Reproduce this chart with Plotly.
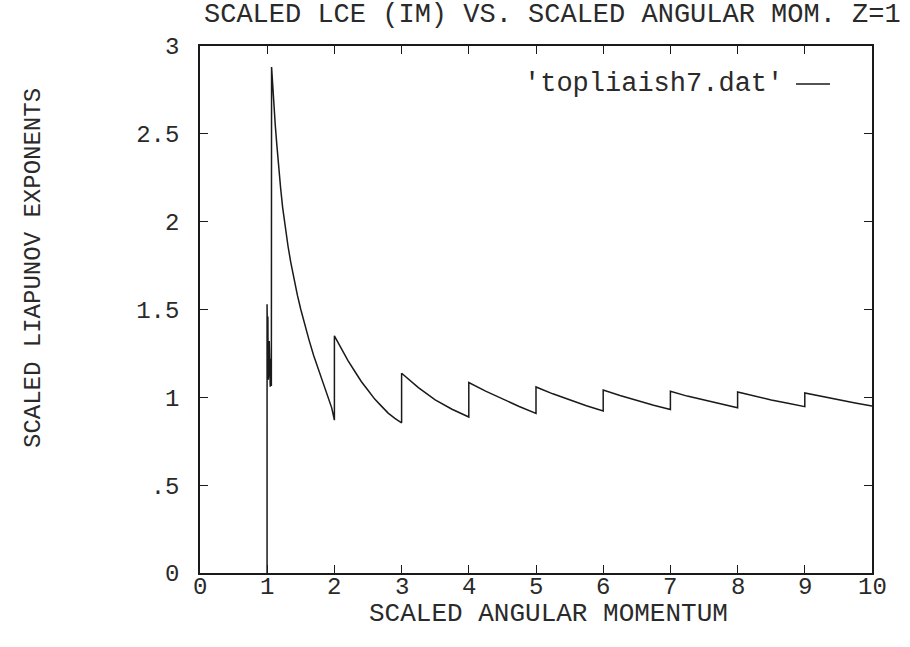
import plotly.graph_objects as go

# ---- data ----
lam_x = [0.998, 0.998, 1.005, 1.01, 1.015, 1.02, 1.025, 1.03, 1.035, 1.04, 1.045, 1.05, 1.055, 1.06, 1.062,
         1.065, 1.08, 1.10, 1.12, 1.145, 1.17, 1.20, 1.23, 1.27, 1.31, 1.35, 1.40, 1.45, 1.50, 1.56,
         1.62, 1.69, 1.76, 1.83, 1.90, 1.96, 2.0,
         2.0, 2.1, 2.2, 2.3, 2.4, 2.5, 2.6, 2.7, 2.8, 2.9, 3.0,
         3.0, 3.25, 3.5, 3.75, 4.0,
         4.0, 4.25, 4.5, 4.75, 5.0,
         5.0, 5.25, 5.5, 5.75, 6.0,
         6.0, 6.25, 6.5, 6.75, 7.0,
         7.0, 7.25, 7.5, 7.75, 8.0,
         8.0, 8.25, 8.5, 8.75, 9.0,
         9.0, 9.25, 9.5, 9.75, 10.0]
lam_y = [0.0, 1.53, 1.20, 1.46, 1.10, 1.40, 1.15, 1.32, 1.08, 1.27, 1.06, 1.22, 1.07, 1.12, 1.065,
         2.88, 2.78, 2.66, 2.55, 2.43, 2.31, 2.19, 2.08, 1.96, 1.86, 1.77, 1.67, 1.58, 1.50, 1.41,
         1.33, 1.24, 1.16, 1.09, 1.01, 0.94, 0.87,
         1.35, 1.28, 1.21, 1.15, 1.09, 1.04, 0.99, 0.95, 0.91, 0.88, 0.855,
         1.137, 1.055, 0.985, 0.932, 0.888,
         1.084, 1.035, 0.99, 0.948, 0.909,
         1.059, 1.02, 0.985, 0.952, 0.922,
         1.042, 1.01, 0.982, 0.955, 0.931,
         1.034, 1.007, 0.985, 0.962, 0.941,
         1.030, 1.007, 0.985, 0.966, 0.947,
         1.025, 1.005, 0.985, 0.968, 0.950]

x_ticks = [0, 1, 2, 3, 4, 5, 6, 7, 8, 9, 10]
x_tick_labels = ["0", "1", "2", "3", "4", "5", "6", "7", "8", "9", "10"]
y_ticks = [0, 0.5, 1, 1.5, 2, 2.5, 3]
y_tick_labels = ["0", ".5", "1", "1.5", "2", "2.5", "3"]

title_text = "SCALED LCE (IM) VS. SCALED ANGULAR MOM. Z=1"
x_title = "SCALED ANGULAR MOMENTUM"
y_title = "SCALED LIAPUNOV EXPONENTS"
legend_label = "'topliaish7.dat'"

FONT = "Liberation Mono"
FS_H = 27   # horizontal texts (scan is stretched horizontally)
FS_V = 24   # vertical text and tick labels
TXT = "#2a2a2a"
W, H = 910, 647
L, R, T, B = 200, 38, 46, 74

fig = go.Figure()
fig.add_trace(go.Scatter(x=lam_x, y=lam_y, mode="lines",
                         line=dict(color="#1a1a1a", width=1.5),
                         showlegend=False, hoverinfo="skip"))

axis_common = dict(showline=True, linecolor="#1a1a1a", linewidth=1.5, mirror="ticks",
                   ticks="inside", ticklen=8, tickwidth=1.3, tickcolor="#1a1a1a",
                   showgrid=False, zeroline=False,
                   tickfont=dict(family=FONT, size=FS_V, color=TXT))

fig.update_xaxes(range=[0, 10], tickvals=x_ticks, ticktext=x_tick_labels,
                 showticklabels=False, **axis_common)
fig.update_yaxes(range=[0, 3], tickvals=y_ticks, ticktext=y_tick_labels,
                 ticklabelstandoff=14, **axis_common)

pw = W - L - R
ph = H - T - B


def px(xp):
    return (xp - L) / pw


def py(yp):
    return 1 - (yp - T) / ph


anns = [
    dict(text=title_text, x=px(552), y=py(15), xref="paper", yref="paper",
         xanchor="center", yanchor="middle", showarrow=False,
         font=dict(family=FONT, size=FS_H, color=TXT)),
    dict(text=x_title, x=px(548), y=py(614), xref="paper", yref="paper",
         xanchor="center", yanchor="middle", showarrow=False,
         font=dict(family=FONT, size=FS_H - 1, color=TXT)),
    dict(text=y_title, x=px(33), y=py(268), xref="paper", yref="paper",
         xanchor="center", yanchor="middle", showarrow=False, textangle=-90,
         font=dict(family=FONT, size=FS_V, color=TXT)),
    dict(text=legend_label, x=px(785), y=py(84), xref="paper", yref="paper",
         xanchor="right", yanchor="middle", showarrow=False,
         font=dict(family=FONT, size=FS_H, color=TXT)),
]
for v, lab in zip(x_ticks, x_tick_labels):
    anns.append(dict(text=lab, x=v, xref="x", y=py(587), yref="paper",
                     xanchor="center", yanchor="middle", showarrow=False,
                     font=dict(family=FONT, size=FS_V, color=TXT)))

fig.update_layout(
    width=W, height=H,
    margin=dict(l=L, r=R, t=T, b=B),
    paper_bgcolor="white", plot_bgcolor="white",
    annotations=anns,
    shapes=[dict(type="line", xref="paper", yref="paper",
                 x0=px(796), x1=px(830), y0=py(84), y1=py(84),
                 line=dict(color="#1a1a1a", width=1.5))],
)

fig.write_html("out.html")
